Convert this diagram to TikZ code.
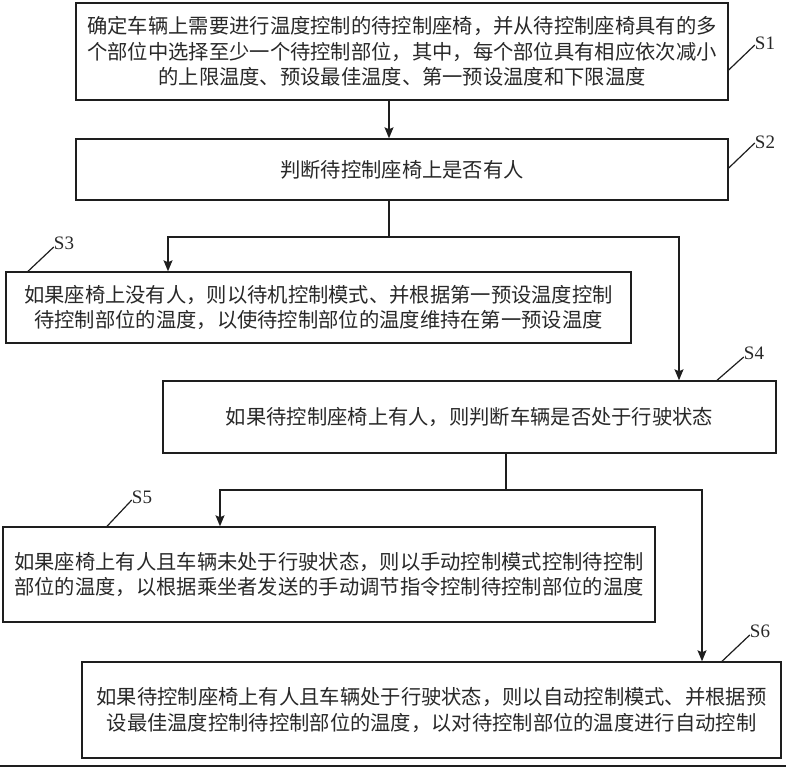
\documentclass[tikz,border=0pt]{standalone}
\usepackage{fontspec}
\setmainfont{Liberation Serif}
\newfontfamily\cjkfont{Noto Sans CJK SC}
\usetikzlibrary{arrows.meta}
\definecolor{ink}{RGB}{30,30,30}
\definecolor{txt}{RGB}{40,40,40}
\tikzset{
  stepbox/.style={draw=ink, line width=1.4pt, inner sep=0pt, align=center,
    text=txt, font=\cjkfont\fontsize{20.3pt}{25.5pt}\selectfont},
  conn/.style={draw=ink, line width=1.3pt},
  arr/.style={conn, -{Stealth[length=11pt,width=9pt,inset=2pt]}},
  lead/.style={draw=ink, line width=1.2pt},
  steplabel/.style={inner sep=0pt, text=txt, font=\fontsize{19pt}{22pt}\selectfont}
}
\begin{document}
\begin{tikzpicture}[x=1pt,y=-1pt]
\useasboundingbox (0,0) rectangle (786,767);
% boxes
\node[stepbox, minimum width=652pt, minimum height=97pt] (s1) at (402,51.5)
  {确定车辆上需要进行温度控制的待控制座椅，并从待控制座椅具有的多\\
   个部位中选择至少一个待控制部位，其中，每个部位具有相应依次减小\\
   的上限温度、预设最佳温度、第一预设温度和下限温度};
\node[stepbox, minimum width=652pt, minimum height=61pt] (s2) at (402,169.5)
  {判断待控制座椅上是否有人};
\node[stepbox, minimum width=625pt, minimum height=71pt] (s3) at (318.5,307.5)
  {如果座椅上没有人，则以待机控制模式、并根据第一预设温度控制\\
   待控制部位的温度，以使待控制部位的温度维持在第一预设温度};
\node[stepbox, minimum width=613pt, minimum height=72pt] (s4) at (469.5,417)
  {如果待控制座椅上有人，则判断车辆是否处于行驶状态};
\node[stepbox, minimum width=652pt, minimum height=95pt] (s5) at (329,574.5)
  {如果座椅上有人且车辆未处于行驶状态，则以手动控制模式控制待控制\\
   部位的温度，以根据乘坐者发送的手动调节指令控制待控制部位的温度};
\node[stepbox, minimum width=699pt, minimum height=96pt] (s6) at (431.5,710)
  {如果待控制座椅上有人且车辆处于行驶状态，则以自动控制模式、并根据预\\
   设最佳温度控制待控制部位的温度，以对待控制部位的温度进行自动控制};
% labels
\node[steplabel] (l1) at (765,43) {S1};
\node[steplabel] (l2) at (765,142) {S2};
\node[steplabel] (l3) at (64,243) {S3};
\node[steplabel] (l4) at (754,353) {S4};
\node[steplabel] (l5) at (142,497) {S5};
\node[steplabel] (l6) at (760,631) {S6};
% leader lines
\draw[lead] (s1.east |- 0,70) -- (l1.west |- 0,45);
\draw[lead] (s2.east |- 0,168) -- (l2.west |- 0,143);
\draw[lead] (s3.north -| 28,0) -- (l3.west |- 0,247);
\draw[lead] (s4.north -| 717,0) -- (l4.west |- 0,357);
\draw[lead] (s5.north -| 107,0) -- (l5.west |- 0,500);
\draw[lead] (s6.north -| 722,0) -- (l6.west |- 0,635);
% connector coordinates
\coordinate (a1) at (389,0);
\coordinate (j2) at (389,237);
\coordinate (c3) at (168,0);
\coordinate (c4) at (679,0);
\coordinate (j4) at (506,490);
\coordinate (c5) at (220,0);
\coordinate (c6) at (702,0);
% connectors
\draw[arr] (s1.south -| a1) -- (s2.north -| a1);
\draw[conn] (s2.south -| j2) -- (j2);
\draw[arr] (j2) -| (s3.north -| c3);
\draw[arr] (j2) -| (s4.north -| c4);
\draw[conn] (s4.south -| j4) -- (j4);
\draw[arr] (j4) -| (s5.north -| c5);
\draw[arr] (j4) -| (s6.north -| c6);
% bottom rule
\coordinate (r0) at (0,766);
\coordinate (r1) at (786,766);
\draw[draw=ink, line width=2pt] (r0) -- (r1);
\end{tikzpicture}
\end{document}
